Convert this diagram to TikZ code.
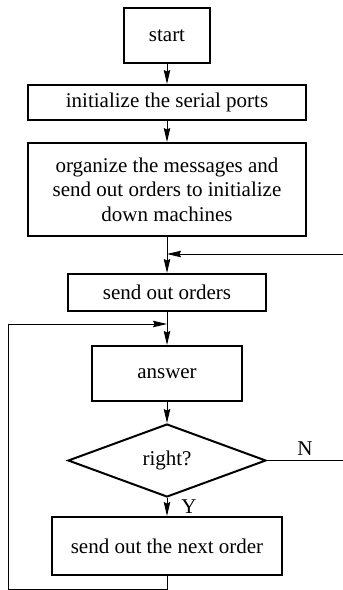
\documentclass[tikz,border=0pt]{standalone}
\usepackage{fontspec}
\setmainfont{Liberation Serif}
\usetikzlibrary{shapes.geometric,arrows.meta}
\begin{document}
\begin{tikzpicture}[x=1pt,y=-1pt,
  box/.style={draw,line width=2pt,inner sep=0pt,align=center,
    font=\fontsize{21}{24.5}\selectfont},
  decision/.style={draw,diamond,line width=2pt,inner sep=0pt,
    font=\fontsize{21}{24.5}\selectfont},
  flow/.style={line width=1pt},
  arr/.style={flow,-{Stealth[length=14pt,width=6.5pt,inset=1.5pt]}},
  lbl/.style={font=\fontsize{21}{24.5}\selectfont,inner sep=0pt}]
\useasboundingbox (0,0) rectangle (343,590);

% process boxes
\node[box,minimum width=86pt,minimum height=55pt] (start) at (167,35.5) {start};
\node[box,minimum width=278pt,minimum height=35pt] (init) at (167,102.5) {initialize the serial ports};
\node[box,minimum width=278pt,minimum height=93pt] (org) at (167,189.5)
  {organize the messages and\\send out orders to initialize\\down machines};
\node[box,minimum width=198pt,minimum height=37pt] (send) at (167,292.5) {send out orders};
\node[box,minimum width=150pt,minimum height=55pt] (ans) at (167,373.5) {answer};
\node[decision,minimum width=198pt,minimum height=73pt] (right) at (167,460.5) {right?};
\node[box,minimum width=230pt,minimum height=58pt] (next) at (167,546) {send out the next order};

% junction and corner points
\coordinate (j1) at (167,254);
\coordinate (r1) at (343,254);
\coordinate (nEnd) at (343,460.5);
\coordinate (j2) at (167,324);
\coordinate (bot) at (167,589);
\coordinate (botL) at (8,589);
\coordinate (topL) at (8,324);

% main flow
\draw[arr] (start) -- (init);
\draw[arr] (init) -- (org);
\draw[flow] (org) -- (j1);
\draw[arr] (j1) -- (send);
\draw[arr] (r1) -- (j1);
\draw[flow] (send) -- (j2);
\draw[arr] (j2) -- (ans);
\draw[arr] (ans) -- (right);
\draw[arr] (right) -- (next);
\draw[flow] (right.east) -- (nEnd);
\draw[arr] (next.south) -- (bot) -- (botL) -- (topL) -- (j2);

% branch labels
\node[lbl] (yes) at (189,507) {Y};
\node[lbl] (no) at (305,449) {N};
\end{tikzpicture}
\end{document}
